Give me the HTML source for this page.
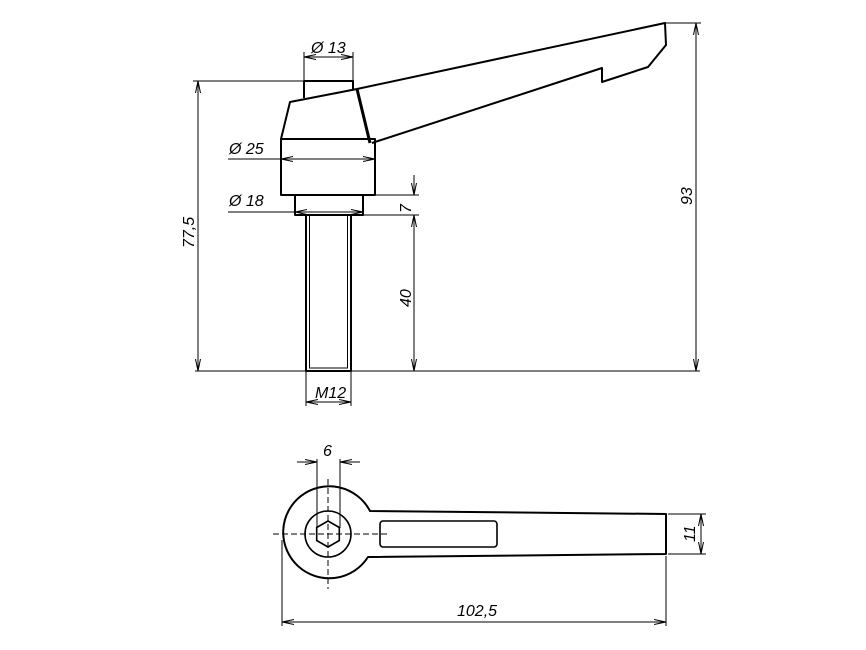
<!DOCTYPE html>
<html><head><meta charset="utf-8"><style>
html,body{margin:0;padding:0;background:#fff;}
svg{display:block;}
text{font-family:"Liberation Sans",sans-serif;font-style:italic;font-size:16px;fill:#000;}
</style></head><body>
<svg width="866" height="650" viewBox="0 0 866 650" xmlns="http://www.w3.org/2000/svg">
<defs>
<marker id="a" viewBox="0 0 12 6" refX="12" refY="3" markerWidth="12" markerHeight="6" orient="auto-start-reverse" markerUnits="userSpaceOnUse">
<path d="M0,0.5 L12,3 L0,5.5" fill="none" stroke="#000" stroke-width="1"/>
</marker>
</defs>
<g fill="none" stroke="#000" stroke-width="2" stroke-linejoin="round">
<path d="M304,98 V81 H353 V90"/>
<path d="M281,139 L290,102 L357,89"/>
<path d="M357,89 L665,23 L666,45 L648,67 L602,82 L602,68 L372,143"/>
<path d="M357,89 L370,143" stroke-width="3"/>
<rect x="281" y="139" width="94" height="56"/>
<rect x="295" y="195" width="68" height="20"/>
<rect x="306" y="215" width="45" height="156"/>
</g>
<g fill="none" stroke="#000" stroke-width="1">
<line x1="309.5" y1="215" x2="309.5" y2="368"/>
<line x1="347.5" y1="215" x2="347.5" y2="368"/>
<line x1="309" y1="368" x2="348" y2="368"/>
<line x1="195" y1="371" x2="700" y2="371"/>
<line x1="304" y1="52" x2="304" y2="81"/>
<line x1="353" y1="52" x2="353" y2="81"/>
<line x1="304" y1="57" x2="353" y2="57" marker-start="url(#a)" marker-end="url(#a)"/>
<line x1="228" y1="159" x2="281" y2="159"/>
<line x1="281" y1="159" x2="375" y2="159" marker-start="url(#a)" marker-end="url(#a)"/>
<line x1="228" y1="212" x2="295" y2="212"/>
<line x1="295" y1="212" x2="363" y2="212" marker-start="url(#a)" marker-end="url(#a)"/>
<line x1="375" y1="195" x2="419" y2="195"/>
<line x1="363" y1="215" x2="419" y2="215"/>
<line x1="414" y1="175" x2="414" y2="195" marker-end="url(#a)"/>
<line x1="414" y1="215" x2="414" y2="371" marker-start="url(#a)" marker-end="url(#a)"/>
<line x1="306" y1="371" x2="306" y2="406"/>
<line x1="351" y1="371" x2="351" y2="406"/>
<line x1="306" y1="402" x2="351" y2="402" marker-start="url(#a)" marker-end="url(#a)"/>
<line x1="193" y1="81" x2="304" y2="81"/>
<line x1="198" y1="81" x2="198" y2="371" marker-start="url(#a)" marker-end="url(#a)"/>
<line x1="665" y1="23" x2="701" y2="23"/>
<line x1="696" y1="23" x2="696" y2="371" marker-start="url(#a)" marker-end="url(#a)"/>
</g>
<text x="311" y="53">Ø 13</text>
<text x="229" y="154">Ø 25</text>
<text x="229" y="206">Ø 18</text>
<text x="315" y="398" font-size="15">M12</text>
<text transform="translate(411,213) rotate(-90)">7</text>
<text transform="translate(411,307) rotate(-90)">40</text>
<text transform="translate(194,248) rotate(-90)">77,5</text>
<text transform="translate(692,205) rotate(-90)">93</text>

<g fill="none" stroke="#000" stroke-width="2" stroke-linejoin="round">
<path d="M370,511 L666,514 V554 L368,557 A46,46 0 1 1 370,511 Z"/>
<circle cx="328" cy="534" r="23" stroke-width="1.6"/>
<path d="M328,521 L339.3,527.5 L339.3,540.5 L328,547 L316.7,540.5 L316.7,527.5 Z" stroke-width="1.6"/>
<rect x="380" y="521" width="117" height="26" rx="3" stroke-width="1.6"/>
</g>
<g fill="none" stroke="#000" stroke-width="1">
<line x1="273" y1="534" x2="387" y2="534" stroke-dasharray="6,3"/>
<line x1="328" y1="479" x2="328" y2="589" stroke-dasharray="6,3"/>
<line x1="317" y1="459" x2="317" y2="528"/>
<line x1="340" y1="459" x2="340" y2="528"/>
<line x1="297" y1="462" x2="317" y2="462" marker-end="url(#a)"/>
<line x1="360" y1="462" x2="340" y2="462" marker-end="url(#a)"/>
<line x1="668" y1="514" x2="706" y2="514"/>
<line x1="668" y1="554" x2="706" y2="554"/>
<line x1="701" y1="514" x2="701" y2="554" marker-start="url(#a)" marker-end="url(#a)"/>
<line x1="282" y1="540" x2="282" y2="626"/>
<line x1="666" y1="556" x2="666" y2="626"/>
<line x1="282" y1="622" x2="666" y2="622" marker-start="url(#a)" marker-end="url(#a)"/>
</g>
<text x="323" y="456">6</text>
<text transform="translate(695,542) rotate(-90)">11</text>
<text x="457" y="616">102,5</text>
</svg>
</body></html>
